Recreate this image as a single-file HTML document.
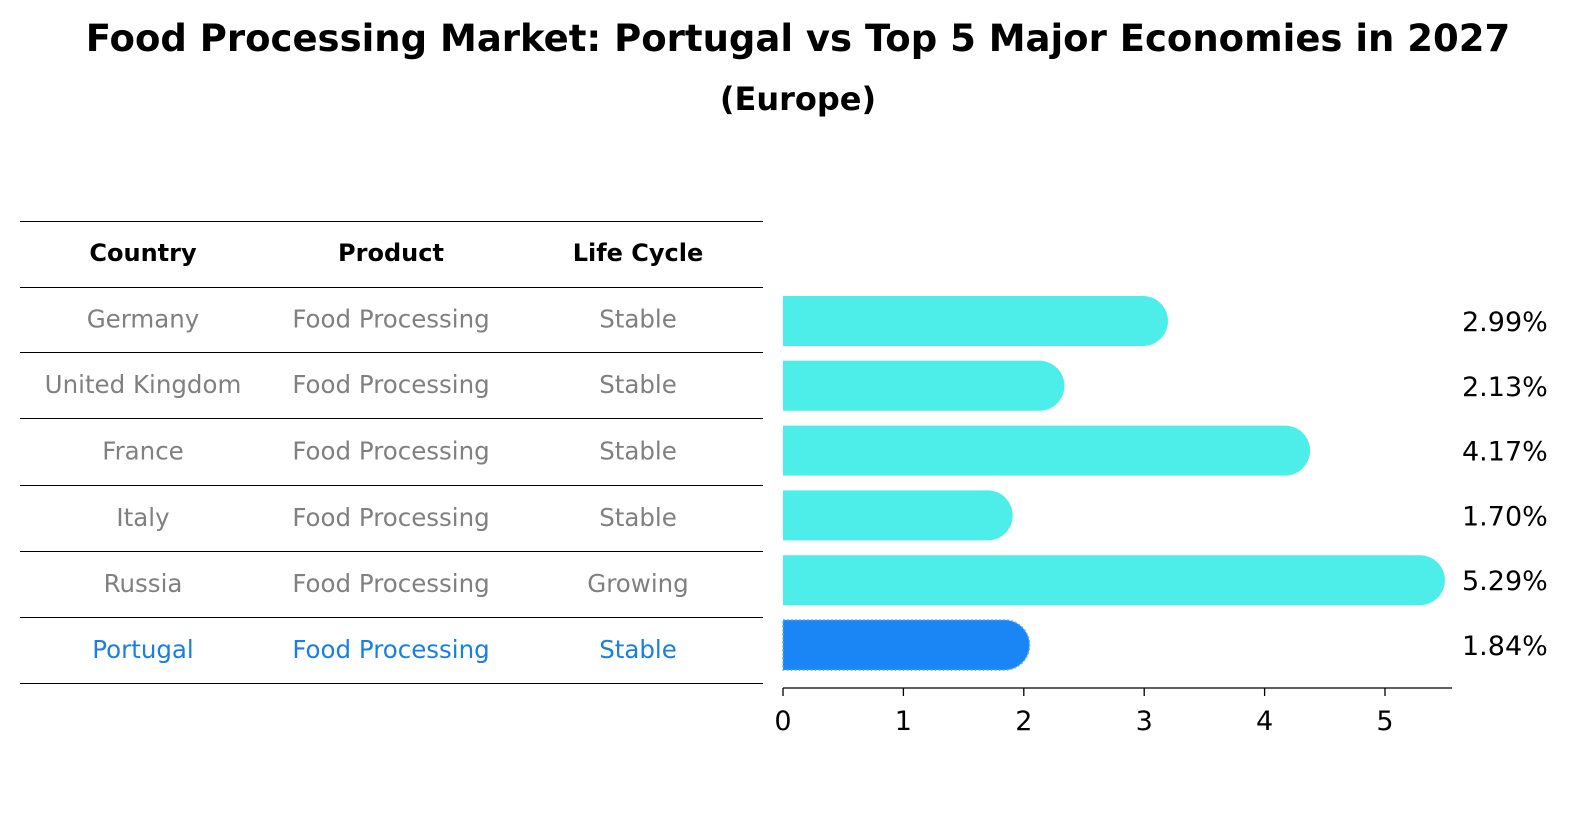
<!DOCTYPE html>
<html><head><meta charset="utf-8"><style>
html,body{margin:0;padding:0;background:#fff;width:1586px;height:823px;overflow:hidden;font-family:"DejaVu Sans","Liberation Sans",sans-serif}
svg{display:block}
</style></head><body>
<svg id="c" width="1586" height="823" xmlns="http://www.w3.org/2000/svg">
<text x="798" y="51" text-anchor="middle" font-size="37" font-weight="bold">Food Processing Market: Portugal vs Top 5 Major Economies in 2027</text>
<text x="798" y="110" text-anchor="middle" font-size="32" font-weight="bold">(Europe)</text>
<g id="table"></g>
<g id="bars"></g>
</svg>
<script>
const countries=["Germany","United Kingdom","France","Italy","Russia","Portugal"];
const products=["Food Processing","Food Processing","Food Processing","Food Processing","Food Processing","Food Processing"];
const lifeCycles=["Stable","Stable","Stable","Stable","Growing","Stable"];
const values=[2.99,2.13,4.17,1.70,5.29,1.84];
const tickVals=[0,1,2,3,4,5];
const NS="http://www.w3.org/2000/svg";
const tbl=document.getElementById('table'),bg=document.getElementById('bars');
function mk(p,tag,attrs,txt){const e=document.createElementNS(NS,tag);for(const k in attrs)e.setAttribute(k,attrs[k]);if(txt!=null)e.textContent=txt;p.appendChild(e);return e;}
const lineYs=[221,287,352,418,485,551,617,683];
lineYs.forEach((y,i)=>{const l=mk(tbl,'line',{x1:20,x2:763,y1:y+0.5,y2:y+0.5,stroke:'#000','stroke-width':1});

});
const colX=[143,391,638];
["Country","Product","Life Cycle"].forEach((h,i)=>{const t=mk(tbl,'text',{x:colX[i],y:261,'text-anchor':'middle','font-size':24,'font-weight':'bold'},h);

});
const x0=783,pxu=120.4,rowStep=64.8,row0=321,bh=50;
const xs=v=>x0+v*pxu, ys=i=>row0+i*rowStep;
countries.forEach((c,i)=>{
 const col=c==="Portugal"?"#1a7fe0":"#808080";
 const cy=(lineYs[i+1]+lineYs[i+2])/2+8;
 [c,products[i],lifeCycles[i]].forEach((s,j)=>{const t=mk(tbl,'text',{x:colX[j],y:cy,'text-anchor':'middle','font-size':24.5,fill:col},s);
 
 });
 const y=ys(i),r=bh/2,xe=xs(values[i]);
 const isP=c==="Portugal";
 const attrs={d:`M${x0} ${y-r}H${xe}A${r} ${r} 0 0 1 ${xe} ${y+r}H${x0}Z`,fill:isP?"#1a86f5":"#4deeea"};
 if(isP){attrs.stroke="#5aa8ff";attrs['stroke-width']=1.5;attrs['stroke-dasharray']='2,2';}
 const p=mk(bg,'path',attrs);
 
 
 const t=mk(bg,'text',{x:1462,y:y+10,'font-size':27,fill:'#000'},values[i].toFixed(2)+'%');
 
 
});
const ax=mk(bg,'line',{x1:x0,x2:1452,y1:688,y2:688,stroke:'#000','stroke-width':1.3});


tickVals.forEach(v=>{const l=mk(bg,'line',{x1:xs(v),x2:xs(v),y1:688,y2:696,stroke:'#000','stroke-width':1.3});


const t=mk(bg,'text',{x:xs(v),y:730,'text-anchor':'middle','font-size':27},String(v));

});
</script>
</body></html>
